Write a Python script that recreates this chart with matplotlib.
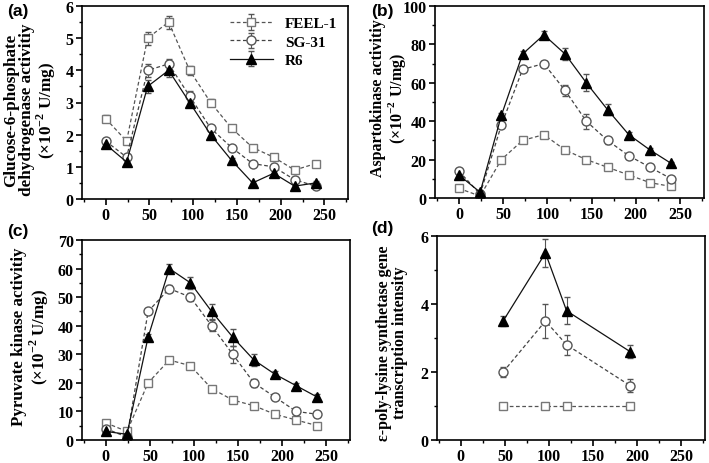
import matplotlib
matplotlib.use("Agg")
import matplotlib.pyplot as plt
from matplotlib.ticker import MultipleLocator

plt.rcParams['font.family'] = ['Liberation Serif', 'DejaVu Serif']
plt.rcParams['font.weight'] = 'bold'
plt.rcParams['mathtext.fontset'] = 'custom'
plt.rcParams['mathtext.rm'] = 'Liberation Serif:bold'
plt.rcParams['mathtext.bf'] = 'Liberation Serif:bold'

hours = [0, 24, 48, 72, 96, 120, 144, 168, 192, 216, 240]
strains = ['FEEL-1', 'SG-31', 'R6']

# (a) glucose-6-phosphate dehydrogenase
g6p = {
    'FEEL-1': [2.5, 1.8, 5.0, 5.5, 4.0, 3.0, 2.2, 1.6, 1.3, 0.9, 1.1],
    'SG-31': [1.8, 1.3, 4.0, 4.2, 3.2, 2.2, 1.6, 1.1, 1.0, 0.6, 0.4],
    'R6': [1.7, 1.15, 3.5, 4.0, 3.0, 2.0, 1.2, 0.5, 0.8, 0.4, 0.5],
}
g6p_err = {
    'FEEL-1': [0.1, 0.05, 0.2, 0.2, 0.15, 0.1, 0.1, 0.05, 0.05, 0.05, 0.05],
    'SG-31': [0.08, 0.05, 0.2, 0.15, 0.15, 0.08, 0.05, 0.05, 0.05, 0.05, 0.05],
    'R6': [0.08, 0.1, 0.2, 0.2, 0.15, 0.1, 0.08, 0.05, 0.08, 0.05, 0.05],
}
# (b) aspartokinase
ak = {
    'FEEL-1': [5, 1, 20, 30, 33, 25, 20, 16, 12, 8, 6],
    'SG-31': [14, 2, 38, 67, 70, 56, 40, 30, 22, 16, 10],
    'R6': [12, 3, 43, 75, 85, 75, 60, 46, 33, 25, 18],
}
ak_err = {
    'FEEL-1': [1, 0.5, 1, 1, 1, 1, 0.5, 1, 1, 1, 0.5],
    'SG-31': [1, 0.5, 1, 1, 1.5, 3, 4, 2, 1, 1, 1],
    'R6': [1.5, 1, 1.5, 1.5, 2, 3, 4.5, 3, 1.5, 1, 1],
}
# (c) pyruvate kinase
pk = {
    'FEEL-1': [6, 3, 20, 28, 26, 18, 14, 12, 9, 7, 5],
    'SG-31': [4, 1, 45, 53, 50, 40, 30, 20, 15, 10, 9],
    'R6': [3, 2, 36, 60, 55, 45, 36, 28, 23, 19, 15],
}
pk_err = {
    'FEEL-1': [0.8, 0.5, 0.8, 0.8, 0.8, 1, 1, 0.8, 0.8, 0.8, 0.5],
    'SG-31': [0.8, 0.5, 0.8, 1.2, 1.5, 2, 3, 1.5, 0.8, 0.8, 0.8],
    'R6': [1, 0.5, 1, 1.5, 2, 2.5, 3, 2, 1.2, 1, 1],
}
# (d) transcription intensity
hours_d = [48, 96, 120, 192]
tr = {
    'FEEL-1': [1, 1, 1, 1],
    'SG-31': [2.0, 3.5, 2.8, 1.6],
    'R6': [3.5, 5.5, 3.8, 2.6],
}
tr_err = {
    'FEEL-1': [0.02, 0.02, 0.02, 0.02],
    'SG-31': [0.15, 0.5, 0.3, 0.2],
    'R6': [0.15, 0.4, 0.4, 0.2],
}

styles = {
    'FEEL-1': dict(marker='s', ls=(0, (3, 2)), color='#555555', mfc='white', mec='#777777', ms=6),
    'SG-31': dict(marker='o', ls=(0, (3, 2)), color='#444444', mfc='white', mec='#555555', ms=6.5),
    'R6': dict(marker='^', ls='-', color='#111111', mfc='black', mec='black', ms=6.5),
}

fig = plt.figure(figsize=(7.09, 4.64), dpi=100)
W, H = 709, 464


def rect(l, t, r, b):
    return [l / W, (H - b) / H, (r - l) / W, (b - t) / H]


panels = [
    (rect(82, 7, 348, 200), hours, g6p, g6p_err, 6, 1, 0.5,
     'Glucose-6-phosphate\ndehydrogenase activitiy\n(×10$^{-2}$ U/mg)', 12.3, (-0.09, 0.466),
     '(a)', (7, 19)),
    (rect(435, 7, 704, 199), hours, ak, ak_err, 100, 20, 10,
     'Aspartokinase activitiy\n(×10$^{-2}$ U/mg)', 11.5, (-0.1, 0.523), '(b)', (371, 19)),
    (rect(82, 241, 350, 441), hours, pk, pk_err, 70, 10, 5,
     'Pyruvate kinase activitiy\n(×10$^{-2}$ U/mg)', 12.2, (-0.117, 0.52), '(c)', (7, 239)),
    (rect(437, 237, 705, 441), hours_d, tr, tr_err, 6, 2, 1,
     'ε-poly-lysine synthetase gene\ntranscription intensity', 11.5, (-0.11, 0.48), '(d)', (371, 236)),
]

for pos, xs, data, err, ymax, ymaj, ymin, ylab, yfs, lcoord, tag, tagpos in panels:
    ax = fig.add_axes(pos)
    for s in strains:
        st = styles[s]
        ax.errorbar(xs, data[s], yerr=err[s], marker=st['marker'], ls=st['ls'],
                    color=st['color'], mfc=st['mfc'], mec=st['mec'], ms=st['ms'],
                    lw=0.9, elinewidth=0.8, ecolor='#555555', capsize=2, label=s)
    ax.set_xlim(-27, 277)
    ax.set_ylim(0, ymax)
    ax.xaxis.set_major_locator(MultipleLocator(50))
    ax.xaxis.set_minor_locator(MultipleLocator(25))
    ax.yaxis.set_major_locator(MultipleLocator(ymaj))
    ax.yaxis.set_minor_locator(MultipleLocator(ymin))
    ax.tick_params(which='both', direction='out', top=False, right=False, labelsize=11.5, pad=2)
    ax.tick_params(which='major', length=4, width=1.2)
    ax.tick_params(which='minor', length=2.5, width=1)
    for sp in ax.spines.values():
        sp.set_linewidth(1.2)
    ax.set_ylabel(ylab, fontsize=yfs, fontweight='bold', linespacing=1.0)
    ax.yaxis.set_label_coords(*lcoord)
    for lbl in ax.get_xticklabels() + ax.get_yticklabels():
        lbl.set_fontweight('bold')
    fig.text(tagpos[0] / W, 1 - tagpos[1] / H, tag, fontsize=12.5, fontweight='bold',
             family='Liberation Sans', va='bottom')
    if tag == '(a)':
        ax.legend(loc='upper right', frameon=False, handlelength=2.8,
                  borderaxespad=0.3, labelspacing=0.3,
                  prop={'weight': 'bold', 'size': 11})

fig.savefig('out.png', dpi=100)
